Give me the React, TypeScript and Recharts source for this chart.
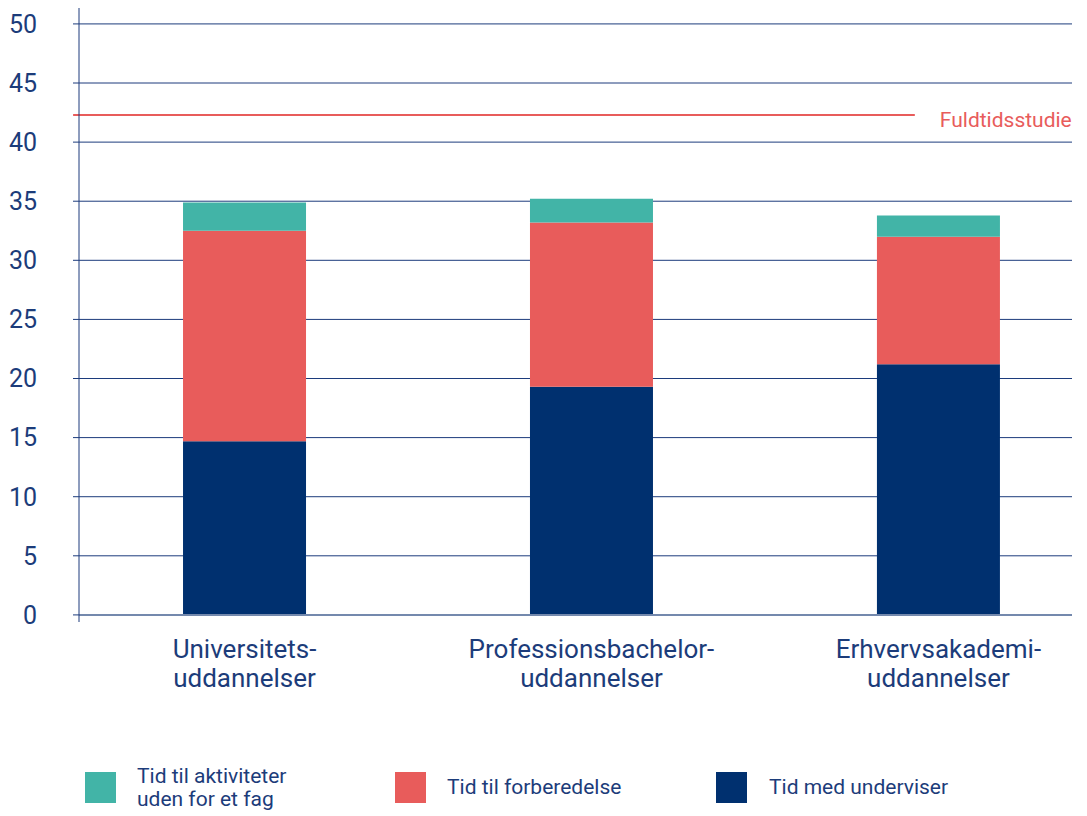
import React from "react";
import {
  BarChart,
  Bar,
  XAxis,
  YAxis,
  CartesianGrid,
  ReferenceLine,
  Legend,
} from "recharts";

const categories: string[][] = [
  ["Universitets-", "uddannelser"],
  ["Professionsbachelor-", "uddannelser"],
  ["Erhvervsakademi-", "uddannelser"],
];
const underviser = [14.7, 19.3, 21.2];
const forberedelse = [17.8, 13.9, 10.8];
const aktiviteter = [2.4, 2.0, 1.8];
const yTicks = [0, 5, 10, 15, 20, 25, 30, 35, 40, 45, 50];
const fuldtid = 42.3;

const NAVY = "#00306f";
const RED = "#e85c5b";
const TEAL = "#42b4a7";
const TEXT = "#1c3c7a";
const FONT = "Roboto, 'DejaVu Sans', sans-serif";

const data = categories.map((c, i) => ({
  x: i,
  underviser: underviser[i],
  forberedelse: forberedelse[i],
  aktiviteter: aktiviteter[i],
}));

const XTick = (props: any) => {
  const { x, y, payload } = props;
  const lines = categories[payload.value] || [];
  return (
    <text x={x} y={y} textAnchor="middle" fill={TEXT} fontSize={26} fontFamily={FONT}>
      {lines.map((l, i) => (
        <tspan key={i} x={x} dy={i === 0 ? 28 : 29}>
          {l}
        </tspan>
      ))}
    </text>
  );
};

const legendItems = [
  { color: TEAL, lines: ["Tid til aktiviteter", "uden for et fag"], left: 85 },
  { color: RED, lines: ["Tid til forberedelse"], left: 395 },
  { color: NAVY, lines: ["Tid med underviser"], left: 716 },
];

const LegendContent = () => (
  <div style={{ position: "relative", width: 1087, height: 44 }}>
    {legendItems.map((it, i) => (
      <div key={i} style={{ position: "absolute", left: it.left, top: 0 }}>
        <div style={{ position: "absolute", left: 0, top: 0, width: 31, height: 31, background: it.color }} />
        <div
          style={{
            position: "absolute",
            left: it.left === 716 ? 53 : 52,
            top: it.lines.length > 1 ? -7 : 4,
            fontFamily: FONT,
            fontSize: 21,
            lineHeight: "23px",
            color: TEXT,
            whiteSpace: "nowrap",
          }}
        >
          {it.lines.map((l, j) => (
            <div key={j}>{l}</div>
          ))}
        </div>
      </div>
    ))}
  </div>
);

export default function App() {
  return (
    <div style={{ marginTop: -8, marginLeft: -8, width: 1087, height: 816 }}>
      <BarChart
        width={1087}
        height={816}
        data={data}
        margin={{ top: 5, right: 15, left: 0, bottom: 0 }}
      >
        <CartesianGrid horizontal vertical={false} stroke="#1c3b7c" strokeWidth={1} syncWithTicks />
        <ReferenceLine y={0} stroke="#7489ad" strokeWidth={2} />
        <XAxis
          type="number"
          dataKey="x"
          domain={[-0.477, 2.385]}
          allowDataOverflow
          ticks={[0, 1, 2]}
          interval={0}
          tick={<XTick />}
          tickLine={false}
          axisLine={false}
          height={150}
        />
        <YAxis
          type="number"
          domain={[-0.6, 51.6]}
          allowDataOverflow
          ticks={yTicks}
          interval={0}
          width={79}
          tickSize={6}
          tickMargin={36}
          tickLine={{ stroke: "#1c3b7c" }}
          axisLine={{ stroke: "#1c3b7c" }}
          tick={{ fill: TEXT, fontSize: 25, fontFamily: FONT }}
        />
        <Bar dataKey="underviser" stackId="a" fill={NAVY} barSize={123} isAnimationActive={false} />
        <Bar dataKey="forberedelse" stackId="a" fill={RED} barSize={123} isAnimationActive={false} />
        <Bar dataKey="aktiviteter" stackId="a" fill={TEAL} barSize={123} isAnimationActive={false} />
        <ReferenceLine
          segment={[
            { x: -0.494, y: fuldtid },
            { x: 1.932, y: fuldtid },
          ]}
          ifOverflow="visible"
          stroke={RED}
          strokeWidth={2}
          label={{
            value: "Fuldtidsstudie",
            position: "right",
            offset: 25,
            fill: RED,
            fontSize: 21,
            fontFamily: FONT,
            dy: 5,
          }}
        />
        <Legend
          verticalAlign="bottom"
          height={44}
          content={<LegendContent />}
          wrapperStyle={{ left: 0, top: 772, width: 1087, height: 44 }}
        />
      </BarChart>
    </div>
  );
}
